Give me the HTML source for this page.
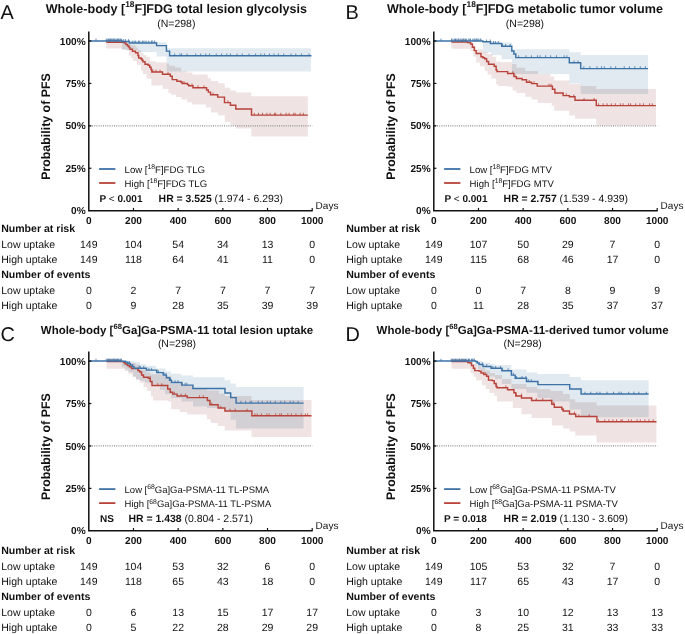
<!DOCTYPE html>
<html><head><meta charset="utf-8"><style>
html,body{margin:0;padding:0;background:#fff;}
svg{display:block;filter:blur(0.35px);}
text{text-rendering:geometricPrecision;}
</style></head><body>
<svg width="685" height="634" viewBox="0 0 685 634" font-family="Liberation Sans, sans-serif" fill="#111">
<rect width="685" height="634" fill="#fff"/>
<text x="0.5" y="19.3" font-size="19.9">A</text>
<text x="176.3" y="13.1" font-size="12.57" font-weight="bold" text-anchor="middle"><tspan>Whole-body [</tspan><tspan font-size="8.4" dy="-5.66">18</tspan><tspan font-size="12.57" dy="5.66">F]FDG total lesion glycolysis</tspan></text>
<text x="176.3" y="26.7" font-size="10.5" text-anchor="middle">(N=298)</text>
<polygon points="122,41 156.6,41 156.6,42.3 166.7,42.3 166.7,48.2 310.9,48.2 310.9,48.2 310.9,71.5 310.9,71.5 166.7,71.5 166.7,56.5 156.6,56.5 156.6,52 137.9,52 137.9,50 122,50" fill="#e1eaf0" style="mix-blend-mode:multiply"/>
<polygon points="106.3,42.3 124.5,42.3 124.5,43 128,43 128,44.2 130.8,44.2 130.8,45.3 135.5,45.3 135.5,47.6 138,47.6 138,50 141,50 141,53.1 143.5,53.1 143.5,55 146.5,55 146.5,57.1 149.7,57.1 149.7,61.3 156,61.3 156,62.6 166.7,62.6 166.7,63.6 169,63.6 169,65.7 175,65.7 175,67.5 181.2,67.5 181.2,71.2 187,71.2 187,72.5 192.4,72.5 192.4,74.5 207.7,74.5 207.7,78.3 211,78.3 211,81 218.2,81 218.2,83.2 224.8,83.2 224.8,87.7 230.4,87.7 230.4,90.4 235.9,90.4 235.9,92.6 251.4,92.6 251.4,96.3 307.8,96.3 307.8,96.3 307.8,136.4 307.8,136.4 251.4,136.4 251.4,128.5 235.9,128.5 235.9,125.2 230.4,125.2 230.4,121.9 224.8,121.9 224.8,115.3 218.2,115.3 218.2,112.5 211,112.5 211,107.5 206,107.5 206,104.5 192,104.5 192,102.3 187.3,102.3 187.3,99.5 181.6,99.5 181.6,97 176,97 176,94.7 171.2,94.7 171.2,92.9 168.4,92.9 168.4,89.1 162.7,89.1 162.7,85.5 151.4,85.5 151.4,78.7 146.6,78.7 146.6,73.9 142.8,73.9 142.8,70.5 141,70.5 141,65 137.1,65 137.1,61 133.1,61 133.1,58 131,58 131,55.5 129.2,55.5 129.2,50.8 126.8,50.8 126.8,49.2 122.1,49.2 122.1,48.6 106.3,48.6" fill="#efe3e3" style="mix-blend-mode:multiply"/>
<path d="M106.3 42.2H124.5V43H126V44.5H127.6V46H129V47.6H130V49.2H132.4V51.2H135.5V52.7H137.9V55.5H138.7V57.9H141V58.7H142V60.3H143V61.8H145V64.2H148.1V65.3H149.7V67.3H151V69.5H151.8V72H162.5V74.2H170.3V76.3H172.2V79.6H176.9V81.3H180.7V82H182.1V83.4H187.5V84.6H188.7V85.8H193V87.7H206.6V89.9H208.3V92.1H210.5V94.8H217.7V97.1H224.5V102.6H230.4V105.3H235.8V108.9H251.5V115.1H307.8V115.1" fill="none" stroke="#b8433a" stroke-width="1.45"/><path d="M106.58 42.2v-2.3M109.07 42.2v-2.3M110.79 42.2v-2.3M113.17 42.2v-2.3M115.2 42.2v-2.3M116.3 42.2v-2.3M118.22 42.2v-2.3M121.54 42.2v-2.3M152.96 72v-2.3M155.94 72v-2.3M160.06 72v-2.3M168 74.2v-2.3M184 83.4v-2.3M192 85.8v-2.3M198 87.7v-2.3M204 87.7v-2.3M213 94.8v-2.3M228 102.6v-2.3M254.31 115.1v-2.3M258.53 115.1v-2.3M262.55 115.1v-2.3M266.87 115.1v-2.3M270.1 115.1v-2.3M274.52 115.1v-2.3M275.62 115.1v-2.3M280.82 115.1v-2.3M286.15 115.1v-2.3M289.1 115.1v-2.3M293.74 115.1v-2.3M295.16 115.1v-2.3M300.12 115.1v-2.3M303.29 115.1v-2.3" stroke="#b8433a" stroke-width="0.8"/>
<path d="M88.8 40.9H122V41.4H129.4V42.9H156.6V45.6H166.4V51.1H169.6V55.8H311.4V55.8" fill="none" stroke="#3d72a6" stroke-width="1.45"/><path d="M96 40.9v-2.3M106.21 40.9v-2.3M107.78 40.9v-2.3M108.71 40.9v-2.3M109.3 40.9v-2.3M110.5 40.9v-2.3M111.46 40.9v-2.3M112.62 40.9v-2.3M113.73 40.9v-2.3M114.18 40.9v-2.3M115.12 40.9v-2.3M116.77 40.9v-2.3M117.45 40.9v-2.3M118.71 40.9v-2.3M119.1 40.9v-2.3M120.46 40.9v-2.3M121.68 40.9v-2.3M123.74 41.4v-2.3M125.52 41.4v-2.3M128.41 41.4v-2.3M129.51 42.9v-2.3M132.34 42.9v-2.3M134.12 42.9v-2.3M135.68 42.9v-2.3M138.48 42.9v-2.3M139.77 42.9v-2.3M142.48 42.9v-2.3M143.95 42.9v-2.3M146.04 42.9v-2.3M148.66 42.9v-2.3M151.38 42.9v-2.3M152.29 42.9v-2.3M154.51 42.9v-2.3M174.66 55.8v-2.3M180.01 55.8v-2.3M181.55 55.8v-2.3M187.06 55.8v-2.3M195.68 55.8v-2.3M200.63 55.8v-2.3M205.73 55.8v-2.3M209.56 55.8v-2.3M216.23 55.8v-2.3M221.61 55.8v-2.3M226.89 55.8v-2.3M230.45 55.8v-2.3M237.01 55.8v-2.3M242.23 55.8v-2.3M249.04 55.8v-2.3M255.59 55.8v-2.3M260.78 55.8v-2.3M264.42 55.8v-2.3M269.38 55.8v-2.3M274 55.8v-2.3M278.39 55.8v-2.3M283.73 55.8v-2.3M291 55.8v-2.3M295.76 55.8v-2.3M301.41 55.8v-2.3M309 55.8v-2.3" stroke="#3d72a6" stroke-width="0.8"/>
<line x1="89.8" y1="125.85" x2="312.2" y2="125.85" stroke="#8c8c8c" stroke-width="1.2" stroke-dasharray="1,1.2"/>
<path d="M88.8 31.4V210.7H312.7" fill="none" stroke="#111" stroke-width="1.5"/>
<line x1="88.8" y1="168.27" x2="91.4" y2="168.27" stroke="#111" stroke-width="1.2"/>
<line x1="88.8" y1="125.85" x2="91.4" y2="125.85" stroke="#111" stroke-width="1.2"/>
<line x1="88.8" y1="83.42" x2="91.4" y2="83.42" stroke="#111" stroke-width="1.2"/>
<line x1="88.8" y1="41" x2="91.4" y2="41" stroke="#111" stroke-width="1.2"/>
<line x1="133.48" y1="210.7" x2="133.48" y2="207.9" stroke="#111" stroke-width="1.2"/>
<line x1="178.16" y1="210.7" x2="178.16" y2="207.9" stroke="#111" stroke-width="1.2"/>
<line x1="222.84" y1="210.7" x2="222.84" y2="207.9" stroke="#111" stroke-width="1.2"/>
<line x1="267.52" y1="210.7" x2="267.52" y2="207.9" stroke="#111" stroke-width="1.2"/>
<line x1="312.2" y1="210.7" x2="312.2" y2="207.9" stroke="#111" stroke-width="1.2"/>
<text x="85.7" y="214.25" font-size="10.1" font-weight="bold" text-anchor="end">0%</text>
<text x="85.7" y="171.82" font-size="10.1" font-weight="bold" text-anchor="end">25%</text>
<text x="85.7" y="129.4" font-size="10.1" font-weight="bold" text-anchor="end">50%</text>
<text x="85.7" y="86.97" font-size="10.1" font-weight="bold" text-anchor="end">75%</text>
<text x="85.7" y="44.55" font-size="10.1" font-weight="bold" text-anchor="end">100%</text>
<text x="88.8" y="223.5" font-size="10.1" font-weight="bold" text-anchor="middle">0</text>
<text x="133.48" y="223.5" font-size="10.1" font-weight="bold" text-anchor="middle">200</text>
<text x="178.16" y="223.5" font-size="10.1" font-weight="bold" text-anchor="middle">400</text>
<text x="222.84" y="223.5" font-size="10.1" font-weight="bold" text-anchor="middle">600</text>
<text x="267.52" y="223.5" font-size="10.1" font-weight="bold" text-anchor="middle">800</text>
<text x="312.2" y="223.5" font-size="10.1" font-weight="bold" text-anchor="middle">1000</text>
<text x="315.6" y="208.6" font-size="10">Days</text>
<text transform="translate(50.4,126.5) rotate(-90)" font-size="12.4" font-weight="bold" text-anchor="middle">Probability of PFS</text>
<line x1="99.1" y1="169" x2="115.4" y2="169" stroke="#3d72a6" stroke-width="1.8"/>
<text x="124.6" y="172.6" font-size="9.6">Low [<tspan font-size="6.8" dy="-3.6">18</tspan><tspan dy="3.6">F]FDG TLG</tspan></text>
<line x1="99.1" y1="183" x2="115.4" y2="183" stroke="#b8433a" stroke-width="1.8"/>
<text x="124.6" y="187" font-size="9.6">High [<tspan font-size="6.8" dy="-3.6">18</tspan><tspan dy="3.6">F]FDG TLG</tspan></text>
<text y="202" font-size="10"><tspan x="99.4" font-weight="bold">P</tspan><tspan> &lt; </tspan><tspan font-weight="bold">0.001</tspan><tspan x="158.6" font-weight="bold" font-size="10.45">HR = 3.525</tspan><tspan font-size="10.45"> (1.974 - 6.293)</tspan></text>
<text x="1.2" y="232.1" font-size="10.55" font-weight="bold">Number at risk</text>
<text x="1.2" y="247.7" font-size="10.55">Low uptake</text>
<text x="88.8" y="247.7" font-size="10.5" text-anchor="middle">149</text>
<text x="133.48" y="247.7" font-size="10.5" text-anchor="middle">104</text>
<text x="178.16" y="247.7" font-size="10.5" text-anchor="middle">54</text>
<text x="222.84" y="247.7" font-size="10.5" text-anchor="middle">34</text>
<text x="267.52" y="247.7" font-size="10.5" text-anchor="middle">13</text>
<text x="312.2" y="247.7" font-size="10.5" text-anchor="middle">0</text>
<text x="1.2" y="263" font-size="10.55">High uptake</text>
<text x="88.8" y="263" font-size="10.5" text-anchor="middle">149</text>
<text x="133.48" y="263" font-size="10.5" text-anchor="middle">118</text>
<text x="178.16" y="263" font-size="10.5" text-anchor="middle">64</text>
<text x="222.84" y="263" font-size="10.5" text-anchor="middle">41</text>
<text x="267.52" y="263" font-size="10.5" text-anchor="middle">11</text>
<text x="312.2" y="263" font-size="10.5" text-anchor="middle">0</text>
<text x="1.2" y="278.4" font-size="10.55" font-weight="bold">Number of events</text>
<text x="1.2" y="293.9" font-size="10.55">Low uptake</text>
<text x="88.8" y="293.9" font-size="10.5" text-anchor="middle">0</text>
<text x="133.48" y="293.9" font-size="10.5" text-anchor="middle">2</text>
<text x="178.16" y="293.9" font-size="10.5" text-anchor="middle">7</text>
<text x="222.84" y="293.9" font-size="10.5" text-anchor="middle">7</text>
<text x="267.52" y="293.9" font-size="10.5" text-anchor="middle">7</text>
<text x="312.2" y="293.9" font-size="10.5" text-anchor="middle">7</text>
<text x="1.2" y="309" font-size="10.55">High uptake</text>
<text x="88.8" y="309" font-size="10.5" text-anchor="middle">0</text>
<text x="133.48" y="309" font-size="10.5" text-anchor="middle">9</text>
<text x="178.16" y="309" font-size="10.5" text-anchor="middle">28</text>
<text x="222.84" y="309" font-size="10.5" text-anchor="middle">35</text>
<text x="267.52" y="309" font-size="10.5" text-anchor="middle">39</text>
<text x="312.2" y="309" font-size="10.5" text-anchor="middle">39</text>
<text x="345.5" y="19.3" font-size="19.9">B</text>
<text x="524.95" y="13.1" font-size="12.57" font-weight="bold" text-anchor="middle"><tspan>Whole-body [</tspan><tspan font-size="8.4" dy="-5.66">18</tspan><tspan font-size="12.57" dy="5.66">F]FDG metabolic tumor volume</tspan></text>
<text x="524.95" y="26.7" font-size="10.5" text-anchor="middle">(N=298)</text>
<polygon points="482.9,41.3 500,41.3 500,42.6 512,42.6 512,49.3 569.3,49.3 569.3,52.3 580.7,52.3 580.7,54.9 648.1,54.9 648.1,54.9 648.1,94 648.1,94 580.7,94 580.7,83.5 569.3,83.5 569.3,74.1 512,74.1 512,59.3 501.8,59.3 501.8,55.3 491.4,55.3 491.4,52.5 482.9,52.5" fill="#e1eaf0" style="mix-blend-mode:multiply"/>
<polygon points="451.4,42 467.7,42 467.7,42.6 472.4,42.6 472.4,45.4 476.2,45.4 476.2,49.2 482.9,49.2 482.9,52 487.6,52 487.6,53.9 492.3,53.9 492.3,56.8 496.1,56.8 496.1,61.5 500,61.5 500,62.2 512,62.2 512,64 516.4,64 516.4,67.8 525.2,67.8 525.2,71 537.9,71 537.9,74.1 550.5,74.1 550.5,76.6 554.3,76.6 554.3,80.4 569.4,80.4 569.4,84 580.7,84 580.7,86.1 596.3,86.1 596.3,89 655.9,89 655.9,89 655.9,125.2 655.9,125.2 596.3,125.2 596.3,118.8 575,118.8 575,115.5 569.4,115.5 569.4,110.7 554.3,110.7 554.3,105.7 551.7,105.7 551.7,103.1 537.9,103.1 537.9,99.4 531.5,99.4 531.5,96.8 525.2,96.8 525.2,93 516.4,93 516.4,90.5 512.6,90.5 512.6,86.7 507.6,86.7 507.6,86.1 498,86.1 498,84.2 496.1,84.2 496.1,78.5 491.4,78.5 491.4,74.7 487.6,74.7 487.6,71 484.7,71 484.7,66.2 480,66.2 480,62.4 476.2,62.4 476.2,56.8 473.4,56.8 473.4,51.1 470.6,51.1 470.6,48.7 467.7,48.7 467.7,48.7 451.4,48.7" fill="#efe3e3" style="mix-blend-mode:multiply"/>
<path d="M451.4 41.9H467.7V42.6H470.6V44H472.4V47.3H474.3V50.6H476.2V53.5H481V56.8H482.9V57.7H484.7V58.7H486.6V61.5H488.5V64.3H494.2V66.2H496.1V70H497V71.6H507.6V73.5H513.9V76.6H516.4V78.5H522.1V79.8H526.5V82.3H531.5V83.6H537.2V86.1H552.4V89.3H554.9V93H563.1V95.6H569.4V96.8H575V100.3H596.3V105.6H655.9V105.6" fill="none" stroke="#b8433a" stroke-width="1.45"/><path d="M451.49 41.9v-2.3M455.43 41.9v-2.3M457.99 41.9v-2.3M461.27 41.9v-2.3M462.51 41.9v-2.3M465.15 41.9v-2.3M512.85 73.5v-2.3M514.98 76.6v-2.3M529.2 82.3v-2.3M534.04 83.6v-2.3M549 86.1v-2.3M551.02 86.1v-2.3M566.23 95.6v-2.3M573.81 96.8v-2.3M584.07 100.3v-2.3M594.1 100.3v-2.3M598.61 105.6v-2.3M603.15 105.6v-2.3M607.08 105.6v-2.3M611.32 105.6v-2.3M615.34 105.6v-2.3M620.31 105.6v-2.3M623.13 105.6v-2.3M628.52 105.6v-2.3M630.59 105.6v-2.3M635.7 105.6v-2.3M639.95 105.6v-2.3M643.46 105.6v-2.3M649.59 105.6v-2.3M652.3 105.6v-2.3" stroke="#b8433a" stroke-width="0.8"/>
<path d="M433.8 40.9H482.9V41.8H490.4V43.5H501.7V46.3H511.8V51H513.9V54H515.8V57.6H569.3V62.8H580.7V68.6H648.1V68.6" fill="none" stroke="#3d72a6" stroke-width="1.45"/><path d="M441 40.9v-2.3M451.6 40.9v-2.3M453 40.9v-2.3M454.67 40.9v-2.3M455.49 40.9v-2.3M456.82 40.9v-2.3M458.19 40.9v-2.3M459.07 40.9v-2.3M460.7 40.9v-2.3M462.11 40.9v-2.3M463.57 40.9v-2.3M464.14 40.9v-2.3M465.65 40.9v-2.3M466.72 40.9v-2.3M468.76 40.9v-2.3M469.93 40.9v-2.3M470.55 40.9v-2.3M472.81 40.9v-2.3M474.08 40.9v-2.3M475.05 40.9v-2.3M476.31 40.9v-2.3M477.13 40.9v-2.3M478.27 40.9v-2.3M480.09 40.9v-2.3M480.9 40.9v-2.3M486.56 41.8v-2.3M490.28 41.8v-2.3M493.56 43.5v-2.3M495.45 43.5v-2.3M498.35 43.5v-2.3M502.55 46.3v-2.3M505.54 46.3v-2.3M510.18 46.3v-2.3M518.66 57.6v-2.3M525.93 57.6v-2.3M531.34 57.6v-2.3M537.47 57.6v-2.3M540.01 57.6v-2.3M545.62 57.6v-2.3M550.68 57.6v-2.3M556.43 57.6v-2.3M564.06 57.6v-2.3M566.86 57.6v-2.3M574.01 62.8v-2.3M578.05 62.8v-2.3M583.82 68.6v-2.3M589.83 68.6v-2.3M597 68.6v-2.3M601.43 68.6v-2.3M604.27 68.6v-2.3M610.82 68.6v-2.3M615.68 68.6v-2.3M624.23 68.6v-2.3M629.38 68.6v-2.3M634.78 68.6v-2.3M640.29 68.6v-2.3M645.35 68.6v-2.3" stroke="#3d72a6" stroke-width="0.8"/>
<line x1="434.8" y1="125.85" x2="657.2" y2="125.85" stroke="#8c8c8c" stroke-width="1.2" stroke-dasharray="1,1.2"/>
<path d="M433.8 31.4V210.7H657.7" fill="none" stroke="#111" stroke-width="1.5"/>
<line x1="433.8" y1="168.27" x2="436.4" y2="168.27" stroke="#111" stroke-width="1.2"/>
<line x1="433.8" y1="125.85" x2="436.4" y2="125.85" stroke="#111" stroke-width="1.2"/>
<line x1="433.8" y1="83.42" x2="436.4" y2="83.42" stroke="#111" stroke-width="1.2"/>
<line x1="433.8" y1="41" x2="436.4" y2="41" stroke="#111" stroke-width="1.2"/>
<line x1="478.48" y1="210.7" x2="478.48" y2="207.9" stroke="#111" stroke-width="1.2"/>
<line x1="523.16" y1="210.7" x2="523.16" y2="207.9" stroke="#111" stroke-width="1.2"/>
<line x1="567.84" y1="210.7" x2="567.84" y2="207.9" stroke="#111" stroke-width="1.2"/>
<line x1="612.52" y1="210.7" x2="612.52" y2="207.9" stroke="#111" stroke-width="1.2"/>
<line x1="657.2" y1="210.7" x2="657.2" y2="207.9" stroke="#111" stroke-width="1.2"/>
<text x="430.7" y="214.25" font-size="10.1" font-weight="bold" text-anchor="end">0%</text>
<text x="430.7" y="171.82" font-size="10.1" font-weight="bold" text-anchor="end">25%</text>
<text x="430.7" y="129.4" font-size="10.1" font-weight="bold" text-anchor="end">50%</text>
<text x="430.7" y="86.97" font-size="10.1" font-weight="bold" text-anchor="end">75%</text>
<text x="430.7" y="44.55" font-size="10.1" font-weight="bold" text-anchor="end">100%</text>
<text x="433.8" y="223.5" font-size="10.1" font-weight="bold" text-anchor="middle">0</text>
<text x="478.48" y="223.5" font-size="10.1" font-weight="bold" text-anchor="middle">200</text>
<text x="523.16" y="223.5" font-size="10.1" font-weight="bold" text-anchor="middle">400</text>
<text x="567.84" y="223.5" font-size="10.1" font-weight="bold" text-anchor="middle">600</text>
<text x="612.52" y="223.5" font-size="10.1" font-weight="bold" text-anchor="middle">800</text>
<text x="657.2" y="223.5" font-size="10.1" font-weight="bold" text-anchor="middle">1000</text>
<text x="660.6" y="208.6" font-size="10">Days</text>
<text transform="translate(395.4,126.5) rotate(-90)" font-size="12.4" font-weight="bold" text-anchor="middle">Probability of PFS</text>
<line x1="444.1" y1="169" x2="460.4" y2="169" stroke="#3d72a6" stroke-width="1.8"/>
<text x="469.6" y="172.6" font-size="9.6">Low [<tspan font-size="6.8" dy="-3.6">18</tspan><tspan dy="3.6">F]FDG MTV</tspan></text>
<line x1="444.1" y1="183" x2="460.4" y2="183" stroke="#b8433a" stroke-width="1.8"/>
<text x="469.6" y="187" font-size="9.6">High [<tspan font-size="6.8" dy="-3.6">18</tspan><tspan dy="3.6">F]FDG MTV</tspan></text>
<text y="202" font-size="10"><tspan x="444.4" font-weight="bold">P</tspan><tspan> &lt; </tspan><tspan font-weight="bold">0.001</tspan><tspan x="503.6" font-weight="bold" font-size="10.45">HR = 2.757</tspan><tspan font-size="10.45"> (1.539 - 4.939)</tspan></text>
<text x="346.2" y="232.1" font-size="10.55" font-weight="bold">Number at risk</text>
<text x="346.2" y="247.7" font-size="10.55">Low uptake</text>
<text x="433.8" y="247.7" font-size="10.5" text-anchor="middle">149</text>
<text x="478.48" y="247.7" font-size="10.5" text-anchor="middle">107</text>
<text x="523.16" y="247.7" font-size="10.5" text-anchor="middle">50</text>
<text x="567.84" y="247.7" font-size="10.5" text-anchor="middle">29</text>
<text x="612.52" y="247.7" font-size="10.5" text-anchor="middle">7</text>
<text x="657.2" y="247.7" font-size="10.5" text-anchor="middle">0</text>
<text x="346.2" y="263" font-size="10.55">High uptake</text>
<text x="433.8" y="263" font-size="10.5" text-anchor="middle">149</text>
<text x="478.48" y="263" font-size="10.5" text-anchor="middle">115</text>
<text x="523.16" y="263" font-size="10.5" text-anchor="middle">68</text>
<text x="567.84" y="263" font-size="10.5" text-anchor="middle">46</text>
<text x="612.52" y="263" font-size="10.5" text-anchor="middle">17</text>
<text x="657.2" y="263" font-size="10.5" text-anchor="middle">0</text>
<text x="346.2" y="278.4" font-size="10.55" font-weight="bold">Number of events</text>
<text x="346.2" y="293.9" font-size="10.55">Low uptake</text>
<text x="433.8" y="293.9" font-size="10.5" text-anchor="middle">0</text>
<text x="478.48" y="293.9" font-size="10.5" text-anchor="middle">0</text>
<text x="523.16" y="293.9" font-size="10.5" text-anchor="middle">7</text>
<text x="567.84" y="293.9" font-size="10.5" text-anchor="middle">8</text>
<text x="612.52" y="293.9" font-size="10.5" text-anchor="middle">9</text>
<text x="657.2" y="293.9" font-size="10.5" text-anchor="middle">9</text>
<text x="346.2" y="309" font-size="10.55">High uptake</text>
<text x="433.8" y="309" font-size="10.5" text-anchor="middle">0</text>
<text x="478.48" y="309" font-size="10.5" text-anchor="middle">11</text>
<text x="523.16" y="309" font-size="10.5" text-anchor="middle">28</text>
<text x="567.84" y="309" font-size="10.5" text-anchor="middle">35</text>
<text x="612.52" y="309" font-size="10.5" text-anchor="middle">37</text>
<text x="657.2" y="309" font-size="10.5" text-anchor="middle">37</text>
<text x="0.5" y="340.9" font-size="19.9">C</text>
<text x="177" y="334.4" font-size="11.48" font-weight="bold" text-anchor="middle"><tspan>Whole-body [</tspan><tspan font-size="7.67" dy="-5.17">68</tspan><tspan font-size="11.48" dy="5.17">Ga]Ga-PSMA-11 total lesion uptake</tspan></text>
<text x="177" y="347.3" font-size="10.5" text-anchor="middle">(N=298)</text>
<polygon points="121.8,361 134,361 134,362.3 140,362.3 140,364.3 146,364.3 146,365.7 156.1,365.7 156.1,368.5 165.6,368.5 165.6,371.4 171.2,371.4 171.2,373.7 181.6,373.7 181.6,375.6 193,375.6 193,377.3 224.7,377.3 224.7,380.3 230.3,380.3 230.3,383.4 235.8,383.4 235.8,387 303.6,387 303.6,387 303.6,428.5 303.6,428.5 236.1,428.5 236.1,419.7 230.7,419.7 230.7,411.8 224.7,411.8 224.7,408.1 207,408.1 207,406.4 193,406.4 193,401.6 181.6,401.6 181.6,397.9 171.2,397.9 171.2,394.1 165,394.1 165,390.1 160,390.1 160,384.6 150.4,384.6 150.4,382.6 145,382.6 145,380.8 140,380.8 140,379.6 136,379.6 136,376.8 133.1,376.8 133.1,372.1 128.4,372.1 128.4,369.6 125,369.6 125,367.3 121.8,367.3" fill="#e1eaf0" style="mix-blend-mode:multiply"/>
<polygon points="106.6,361.6 123,361.6 123,361.9 128.4,361.9 128.4,363 136,363 136,364.5 140,364.5 140,369.5 146.6,369.5 146.6,372.3 150.4,372.3 150.4,374.2 161.8,374.2 161.8,376.1 171.2,376.1 171.2,383.7 181.6,383.7 181.6,386 193,386 193,388.4 207,388.4 207,390.6 219,390.6 219,393.7 224.7,393.7 224.7,396.1 251.5,396.1 251.5,400 311.5,400 311.5,400 311.5,437.1 311.5,437.1 251.5,437.1 251.5,430.6 224.7,430.6 224.7,426.1 218.1,426.1 218.1,423.1 210.6,423.1 210.6,419.3 206.8,419.3 206.8,414.4 187.3,414.4 187.3,412 179.7,412 179.7,409.2 171.2,409.2 171.2,401.6 168.4,401.6 168.4,400.4 153,400.4 153,396.6 151.1,396.6 151.1,391 147.3,391 147.3,387.2 143.5,387.2 143.5,382.4 139.7,382.4 139.7,379.6 136,379.6 136,376.8 132.2,376.8 132.2,373.9 128.4,373.9 128.4,371.1 124.6,371.1 124.6,368.7 121.8,368.7 121.8,368.7 106.6,368.7" fill="#efe3e3" style="mix-blend-mode:multiply"/>
<path d="M106.6 361.6H123.7V362.6H125.1V364H127.4V365.4H129.3V366.8H131.5V368.6H137.9V370.6H139.7V372H141.6V374.9H143.5V377.2H148.3V378.2H150.2V381.5H152V385.5H167.7V389H170.2V392.2H172.7V394.1H177.1V396H187.2V397.6H207.4V400.4H209.9V404.8H218.1V408H224.9V411H251.9V415.7H311.5V415.7" fill="none" stroke="#b8433a" stroke-width="1.45"/><path d="M107.79 361.6v-2.3M110.72 361.6v-2.3M111.99 361.6v-2.3M116.4 361.6v-2.3M117.35 361.6v-2.3M121.03 361.6v-2.3M138.3 370.6v-2.3M150.13 378.2v-2.3M157.79 385.5v-2.3M161.87 385.5v-2.3M174.41 394.1v-2.3M181.08 396v-2.3M185.39 396v-2.3M199.58 397.6v-2.3M203.22 397.6v-2.3M211.76 404.8v-2.3M220.75 408v-2.3M230.05 411v-2.3M235.21 411v-2.3M247.12 411v-2.3M254.89 415.7v-2.3M257.23 415.7v-2.3M261.38 415.7v-2.3M266.83 415.7v-2.3M269.17 415.7v-2.3M275.7 415.7v-2.3M279.8 415.7v-2.3M281.55 415.7v-2.3M287.82 415.7v-2.3M291.37 415.7v-2.3M295.95 415.7v-2.3M301.15 415.7v-2.3M305.4 415.7v-2.3M307.63 415.7v-2.3" stroke="#b8433a" stroke-width="0.8"/>
<path d="M88.8 361H121.8V361.2H125.6V362.1H127.4V363.5H130.3V364.9H132.6V366.8H134.1V368.2H146.4V370.1H156.8V372.6H163.2V375.1H166.4V377.7H169.6V380.2H171.5V382.5H181.8V385.1H192.9V388.4H225V392.9H230.7V397.6H236.1V403.1H303.6V403.1" fill="none" stroke="#3d72a6" stroke-width="1.45"/><path d="M96 361v-2.3M106.23 361v-2.3M107.65 361v-2.3M108.61 361v-2.3M109.48 361v-2.3M110.27 361v-2.3M111.73 361v-2.3M112.75 361v-2.3M113.51 361v-2.3M114.5 361v-2.3M115.29 361v-2.3M116.1 361v-2.3M117.4 361v-2.3M118.57 361v-2.3M119.16 361v-2.3M120.74 361v-2.3M121.29 361v-2.3M128.13 363.5v-2.3M129.38 363.5v-2.3M132.65 366.8v-2.3M139.08 368.2v-2.3M140.34 368.2v-2.3M143.77 368.2v-2.3M148.91 370.1v-2.3M151.64 370.1v-2.3M156.82 372.6v-2.3M158.53 372.6v-2.3M164.24 375.1v-2.3M166.01 375.1v-2.3M170.43 380.2v-2.3M175 382.5v-2.3M177.9 382.5v-2.3M182.2 385.1v-2.3M185.18 385.1v-2.3M186.89 385.1v-2.3M240.9 403.1v-2.3M245.63 403.1v-2.3M250.06 403.1v-2.3M251.7 403.1v-2.3M258.23 403.1v-2.3M262.25 403.1v-2.3M267.29 403.1v-2.3M270.45 403.1v-2.3M275.32 403.1v-2.3M280.9 403.1v-2.3M284.71 403.1v-2.3M290.23 403.1v-2.3M293.27 403.1v-2.3M298.14 403.1v-2.3" stroke="#3d72a6" stroke-width="0.8"/>
<line x1="89.8" y1="445.95" x2="312.2" y2="445.95" stroke="#8c8c8c" stroke-width="1.2" stroke-dasharray="1,1.2"/>
<path d="M88.8 351.5V530.8H312.7" fill="none" stroke="#111" stroke-width="1.5"/>
<line x1="88.8" y1="488.38" x2="91.4" y2="488.38" stroke="#111" stroke-width="1.2"/>
<line x1="88.8" y1="445.95" x2="91.4" y2="445.95" stroke="#111" stroke-width="1.2"/>
<line x1="88.8" y1="403.52" x2="91.4" y2="403.52" stroke="#111" stroke-width="1.2"/>
<line x1="88.8" y1="361.1" x2="91.4" y2="361.1" stroke="#111" stroke-width="1.2"/>
<line x1="133.48" y1="530.8" x2="133.48" y2="528" stroke="#111" stroke-width="1.2"/>
<line x1="178.16" y1="530.8" x2="178.16" y2="528" stroke="#111" stroke-width="1.2"/>
<line x1="222.84" y1="530.8" x2="222.84" y2="528" stroke="#111" stroke-width="1.2"/>
<line x1="267.52" y1="530.8" x2="267.52" y2="528" stroke="#111" stroke-width="1.2"/>
<line x1="312.2" y1="530.8" x2="312.2" y2="528" stroke="#111" stroke-width="1.2"/>
<text x="85.7" y="534.35" font-size="10.1" font-weight="bold" text-anchor="end">0%</text>
<text x="85.7" y="491.93" font-size="10.1" font-weight="bold" text-anchor="end">25%</text>
<text x="85.7" y="449.5" font-size="10.1" font-weight="bold" text-anchor="end">50%</text>
<text x="85.7" y="407.07" font-size="10.1" font-weight="bold" text-anchor="end">75%</text>
<text x="85.7" y="364.65" font-size="10.1" font-weight="bold" text-anchor="end">100%</text>
<text x="88.8" y="543.6" font-size="10.1" font-weight="bold" text-anchor="middle">0</text>
<text x="133.48" y="543.6" font-size="10.1" font-weight="bold" text-anchor="middle">200</text>
<text x="178.16" y="543.6" font-size="10.1" font-weight="bold" text-anchor="middle">400</text>
<text x="222.84" y="543.6" font-size="10.1" font-weight="bold" text-anchor="middle">600</text>
<text x="267.52" y="543.6" font-size="10.1" font-weight="bold" text-anchor="middle">800</text>
<text x="312.2" y="543.6" font-size="10.1" font-weight="bold" text-anchor="middle">1000</text>
<text x="315.6" y="528.7" font-size="10">Days</text>
<text transform="translate(50.4,446.6) rotate(-90)" font-size="12.4" font-weight="bold" text-anchor="middle">Probability of PFS</text>
<line x1="99.1" y1="489.1" x2="115.4" y2="489.1" stroke="#3d72a6" stroke-width="1.8"/>
<text x="124.6" y="492.7" font-size="9.47">Low [<tspan font-size="6.8" dy="-3.6">68</tspan><tspan dy="3.6">Ga]Ga-PSMA-11 TL-PSMA</tspan></text>
<line x1="99.1" y1="503.1" x2="115.4" y2="503.1" stroke="#b8433a" stroke-width="1.8"/>
<text x="124.6" y="507.1" font-size="9.47">High [<tspan font-size="6.8" dy="-3.6">68</tspan><tspan dy="3.6">Ga]Ga-PSMA-11 TL-PSMA</tspan></text>
<text y="522.1" font-size="10"><tspan x="100" font-weight="bold">NS</tspan><tspan x="128.5" font-weight="bold" font-size="10.45">HR = 1.438</tspan><tspan font-size="10.45"> (0.804 - 2.571)</tspan></text>
<text x="1.2" y="554.1" font-size="10.55" font-weight="bold">Number at risk</text>
<text x="1.2" y="569.7" font-size="10.55">Low uptake</text>
<text x="88.8" y="569.7" font-size="10.5" text-anchor="middle">149</text>
<text x="133.48" y="569.7" font-size="10.5" text-anchor="middle">104</text>
<text x="178.16" y="569.7" font-size="10.5" text-anchor="middle">53</text>
<text x="222.84" y="569.7" font-size="10.5" text-anchor="middle">32</text>
<text x="267.52" y="569.7" font-size="10.5" text-anchor="middle">6</text>
<text x="312.2" y="569.7" font-size="10.5" text-anchor="middle">0</text>
<text x="1.2" y="585" font-size="10.55">High uptake</text>
<text x="88.8" y="585" font-size="10.5" text-anchor="middle">149</text>
<text x="133.48" y="585" font-size="10.5" text-anchor="middle">118</text>
<text x="178.16" y="585" font-size="10.5" text-anchor="middle">65</text>
<text x="222.84" y="585" font-size="10.5" text-anchor="middle">43</text>
<text x="267.52" y="585" font-size="10.5" text-anchor="middle">18</text>
<text x="312.2" y="585" font-size="10.5" text-anchor="middle">0</text>
<text x="1.2" y="600.4" font-size="10.55" font-weight="bold">Number of events</text>
<text x="1.2" y="615.9" font-size="10.55">Low uptake</text>
<text x="88.8" y="615.9" font-size="10.5" text-anchor="middle">0</text>
<text x="133.48" y="615.9" font-size="10.5" text-anchor="middle">6</text>
<text x="178.16" y="615.9" font-size="10.5" text-anchor="middle">13</text>
<text x="222.84" y="615.9" font-size="10.5" text-anchor="middle">15</text>
<text x="267.52" y="615.9" font-size="10.5" text-anchor="middle">17</text>
<text x="312.2" y="615.9" font-size="10.5" text-anchor="middle">17</text>
<text x="1.2" y="631" font-size="10.55">High uptake</text>
<text x="88.8" y="631" font-size="10.5" text-anchor="middle">0</text>
<text x="133.48" y="631" font-size="10.5" text-anchor="middle">5</text>
<text x="178.16" y="631" font-size="10.5" text-anchor="middle">22</text>
<text x="222.84" y="631" font-size="10.5" text-anchor="middle">28</text>
<text x="267.52" y="631" font-size="10.5" text-anchor="middle">29</text>
<text x="312.2" y="631" font-size="10.5" text-anchor="middle">29</text>
<text x="345.5" y="340.9" font-size="19.9">D</text>
<text x="522.65" y="334.4" font-size="11.48" font-weight="bold" text-anchor="middle"><tspan>Whole-body [</tspan><tspan font-size="7.67" dy="-5.17">68</tspan><tspan font-size="11.48" dy="5.17">Ga]Ga-PSMA-11-derived tumor volume</tspan></text>
<text x="522.65" y="347.3" font-size="10.5" text-anchor="middle">(N=298)</text>
<polygon points="475.3,361 482,361 482,362.6 490,362.6 490,364.1 495,364.1 495,365.1 511.4,365.1 511.4,369.5 526.5,369.5 526.5,372.6 537.3,372.6 537.3,374.1 569.7,374.1 569.7,377.1 580.8,377.1 580.8,380.3 648.6,380.3 648.6,380.3 648.6,417.3 648.6,417.3 580.8,417.3 580.8,409.4 569.7,409.4 569.7,401.6 550.5,401.6 550.5,397.9 537.3,397.9 537.3,392.8 526.5,392.8 526.5,389 511.4,389 511.4,384 501.9,384 501.9,378.9 495,378.9 495,376.6 489,376.6 489,374.6 485,374.6 485,372.1 481,372.1 481,369.1 478,369.1 478,366.1 475.3,366.1" fill="#e1eaf0" style="mix-blend-mode:multiply"/>
<polygon points="451.4,361.4 467.7,361.4 467.7,362.4 473,362.4 473,364.1 476.2,364.1 476.2,365.9 481,365.9 481,368.3 485,368.3 485,370.6 490,370.6 490,373.1 495,373.1 495,375.1 501.9,375.1 501.9,378.9 511.4,378.9 511.4,384 526.5,384 526.5,387.1 537.3,387.1 537.3,389 550.5,389 550.5,391.1 563,391.1 563,394.1 569.7,394.1 569.7,399.2 575.3,399.2 575.3,402.3 596.5,402.3 596.5,405.5 656.5,405.5 656.5,405.5 656.5,442.6 656.5,442.6 596.5,442.6 596.5,435.5 575.3,435.5 575.3,431.5 569.7,431.5 569.7,428.6 563.1,428.6 563.1,425.6 551.8,425.6 551.8,418 531.6,418 531.6,414.3 521.5,414.3 521.5,407.9 512.7,407.9 512.7,401.4 497,401.4 497,395.7 494.2,395.7 494.2,392.9 489.5,392.9 489.5,389.1 485.7,389.1 485.7,385.3 481.9,385.3 481.9,380.6 476.2,380.6 476.2,376.7 473.4,376.7 473.4,373 470.6,373 470.6,368.7 467.7,368.7 467.7,368.7 451.4,368.7" fill="#efe3e3" style="mix-blend-mode:multiply"/>
<path d="M451.4 361.4H467.7V362.6H470.1V363H471.5V365.4H473.4V368.2H474.8V370.6H479.1V371.1H481V373H483.8V374.4H486.6V376.3H488.5V380.1H492.3V380.6H494.2V383.4H496.1V386.5H497V387.8H507.6V389.7H513.9V392.8H515.8V396H521.5V397.9H531.6V400.4H551.8V404.2H554.3V407.3H561.9V409.2H563.1V410.9H569.5V413.9H575.7V416.5H596.9V421.7H656.5V421.7" fill="none" stroke="#b8433a" stroke-width="1.45"/><path d="M452.4 361.4v-2.3M455.18 361.4v-2.3M458.4 361.4v-2.3M461.18 361.4v-2.3M463.82 361.4v-2.3M465.38 361.4v-2.3M485.16 374.4v-2.3M496.3 386.5v-2.3M505.85 387.8v-2.3M516.34 396v-2.3M521.48 396v-2.3M536.28 400.4v-2.3M542.8 400.4v-2.3M553.77 404.2v-2.3M563.41 410.9v-2.3M574.33 413.9v-2.3M578.89 416.5v-2.3M589.19 416.5v-2.3M598.5 421.7v-2.3M604.82 421.7v-2.3M608.88 421.7v-2.3M612.89 421.7v-2.3M616.6 421.7v-2.3M621.03 421.7v-2.3M622.27 421.7v-2.3M628.49 421.7v-2.3M631.38 421.7v-2.3M637.12 421.7v-2.3M640.28 421.7v-2.3M644.84 421.7v-2.3M648.93 421.7v-2.3M653.18 421.7v-2.3" stroke="#b8433a" stroke-width="0.8"/>
<path d="M433.8 361H475.8V361.6H477.2V363H479.1V364.5H482.9V366.4H491V368.3H501.9V370.7H511.4V375.1H515.2V378.3H526.5V381.5H537.9V384.6H569.7V388.9H581.1V394H648.6V394" fill="none" stroke="#3d72a6" stroke-width="1.45"/><path d="M441 361v-2.3M451.12 361v-2.3M452.3 361v-2.3M453.63 361v-2.3M454.98 361v-2.3M455.59 361v-2.3M456.66 361v-2.3M457.86 361v-2.3M459.41 361v-2.3M459.97 361v-2.3M461.57 361v-2.3M462.6 361v-2.3M463.23 361v-2.3M464.67 361v-2.3M465.68 361v-2.3M466.74 361v-2.3M468.34 361v-2.3M468.64 361v-2.3M469.67 361v-2.3M471.57 361v-2.3M472.19 361v-2.3M473.1 361v-2.3M474.31 361v-2.3M477.67 363v-2.3M482.27 364.5v-2.3M486.7 366.4v-2.3M492.83 368.3v-2.3M495.63 368.3v-2.3M500.52 368.3v-2.3M502.6 370.7v-2.3M508.1 370.7v-2.3M513.35 375.1v-2.3M516.43 378.3v-2.3M521.97 378.3v-2.3M525.91 378.3v-2.3M528.36 381.5v-2.3M531.27 381.5v-2.3M585.01 394v-2.3M590.7 394v-2.3M596.92 394v-2.3M599.99 394v-2.3M607.03 394v-2.3M613.49 394v-2.3M618.98 394v-2.3M621.27 394v-2.3M628.7 394v-2.3M633.97 394v-2.3M638.89 394v-2.3M646.31 394v-2.3" stroke="#3d72a6" stroke-width="0.8"/>
<line x1="434.8" y1="445.95" x2="657.2" y2="445.95" stroke="#8c8c8c" stroke-width="1.2" stroke-dasharray="1,1.2"/>
<path d="M433.8 351.5V530.8H657.7" fill="none" stroke="#111" stroke-width="1.5"/>
<line x1="433.8" y1="488.38" x2="436.4" y2="488.38" stroke="#111" stroke-width="1.2"/>
<line x1="433.8" y1="445.95" x2="436.4" y2="445.95" stroke="#111" stroke-width="1.2"/>
<line x1="433.8" y1="403.52" x2="436.4" y2="403.52" stroke="#111" stroke-width="1.2"/>
<line x1="433.8" y1="361.1" x2="436.4" y2="361.1" stroke="#111" stroke-width="1.2"/>
<line x1="478.48" y1="530.8" x2="478.48" y2="528" stroke="#111" stroke-width="1.2"/>
<line x1="523.16" y1="530.8" x2="523.16" y2="528" stroke="#111" stroke-width="1.2"/>
<line x1="567.84" y1="530.8" x2="567.84" y2="528" stroke="#111" stroke-width="1.2"/>
<line x1="612.52" y1="530.8" x2="612.52" y2="528" stroke="#111" stroke-width="1.2"/>
<line x1="657.2" y1="530.8" x2="657.2" y2="528" stroke="#111" stroke-width="1.2"/>
<text x="430.7" y="534.35" font-size="10.1" font-weight="bold" text-anchor="end">0%</text>
<text x="430.7" y="491.93" font-size="10.1" font-weight="bold" text-anchor="end">25%</text>
<text x="430.7" y="449.5" font-size="10.1" font-weight="bold" text-anchor="end">50%</text>
<text x="430.7" y="407.07" font-size="10.1" font-weight="bold" text-anchor="end">75%</text>
<text x="430.7" y="364.65" font-size="10.1" font-weight="bold" text-anchor="end">100%</text>
<text x="433.8" y="543.6" font-size="10.1" font-weight="bold" text-anchor="middle">0</text>
<text x="478.48" y="543.6" font-size="10.1" font-weight="bold" text-anchor="middle">200</text>
<text x="523.16" y="543.6" font-size="10.1" font-weight="bold" text-anchor="middle">400</text>
<text x="567.84" y="543.6" font-size="10.1" font-weight="bold" text-anchor="middle">600</text>
<text x="612.52" y="543.6" font-size="10.1" font-weight="bold" text-anchor="middle">800</text>
<text x="657.2" y="543.6" font-size="10.1" font-weight="bold" text-anchor="middle">1000</text>
<text x="660.6" y="528.7" font-size="10">Days</text>
<text transform="translate(395.4,446.6) rotate(-90)" font-size="12.4" font-weight="bold" text-anchor="middle">Probability of PFS</text>
<line x1="444.1" y1="489.1" x2="460.4" y2="489.1" stroke="#3d72a6" stroke-width="1.8"/>
<text x="469.6" y="492.7" font-size="9.5">Low [<tspan font-size="6.8" dy="-3.6">68</tspan><tspan dy="3.6">Ga]Ga-PSMA-11 PSMA-TV</tspan></text>
<line x1="444.1" y1="503.1" x2="460.4" y2="503.1" stroke="#b8433a" stroke-width="1.8"/>
<text x="469.6" y="507.1" font-size="9.5">High [<tspan font-size="6.8" dy="-3.6">68</tspan><tspan dy="3.6">Ga]Ga-PSMA-11 PSMA-TV</tspan></text>
<text y="522.1" font-size="10"><tspan x="444" font-weight="bold">P = 0.018</tspan><tspan x="503.6" font-weight="bold" font-size="10.45">HR = 2.019</tspan><tspan font-size="10.45"> (1.130 - 3.609)</tspan></text>
<text x="346.2" y="554.1" font-size="10.55" font-weight="bold">Number at risk</text>
<text x="346.2" y="569.7" font-size="10.55">Low uptake</text>
<text x="433.8" y="569.7" font-size="10.5" text-anchor="middle">149</text>
<text x="478.48" y="569.7" font-size="10.5" text-anchor="middle">105</text>
<text x="523.16" y="569.7" font-size="10.5" text-anchor="middle">53</text>
<text x="567.84" y="569.7" font-size="10.5" text-anchor="middle">32</text>
<text x="612.52" y="569.7" font-size="10.5" text-anchor="middle">7</text>
<text x="657.2" y="569.7" font-size="10.5" text-anchor="middle">0</text>
<text x="346.2" y="585" font-size="10.55">High uptake</text>
<text x="433.8" y="585" font-size="10.5" text-anchor="middle">149</text>
<text x="478.48" y="585" font-size="10.5" text-anchor="middle">117</text>
<text x="523.16" y="585" font-size="10.5" text-anchor="middle">65</text>
<text x="567.84" y="585" font-size="10.5" text-anchor="middle">43</text>
<text x="612.52" y="585" font-size="10.5" text-anchor="middle">17</text>
<text x="657.2" y="585" font-size="10.5" text-anchor="middle">0</text>
<text x="346.2" y="600.4" font-size="10.55" font-weight="bold">Number of events</text>
<text x="346.2" y="615.9" font-size="10.55">Low uptake</text>
<text x="433.8" y="615.9" font-size="10.5" text-anchor="middle">0</text>
<text x="478.48" y="615.9" font-size="10.5" text-anchor="middle">3</text>
<text x="523.16" y="615.9" font-size="10.5" text-anchor="middle">10</text>
<text x="567.84" y="615.9" font-size="10.5" text-anchor="middle">12</text>
<text x="612.52" y="615.9" font-size="10.5" text-anchor="middle">13</text>
<text x="657.2" y="615.9" font-size="10.5" text-anchor="middle">13</text>
<text x="346.2" y="631" font-size="10.55">High uptake</text>
<text x="433.8" y="631" font-size="10.5" text-anchor="middle">0</text>
<text x="478.48" y="631" font-size="10.5" text-anchor="middle">8</text>
<text x="523.16" y="631" font-size="10.5" text-anchor="middle">25</text>
<text x="567.84" y="631" font-size="10.5" text-anchor="middle">31</text>
<text x="612.52" y="631" font-size="10.5" text-anchor="middle">33</text>
<text x="657.2" y="631" font-size="10.5" text-anchor="middle">33</text>
</svg>
</body></html>
